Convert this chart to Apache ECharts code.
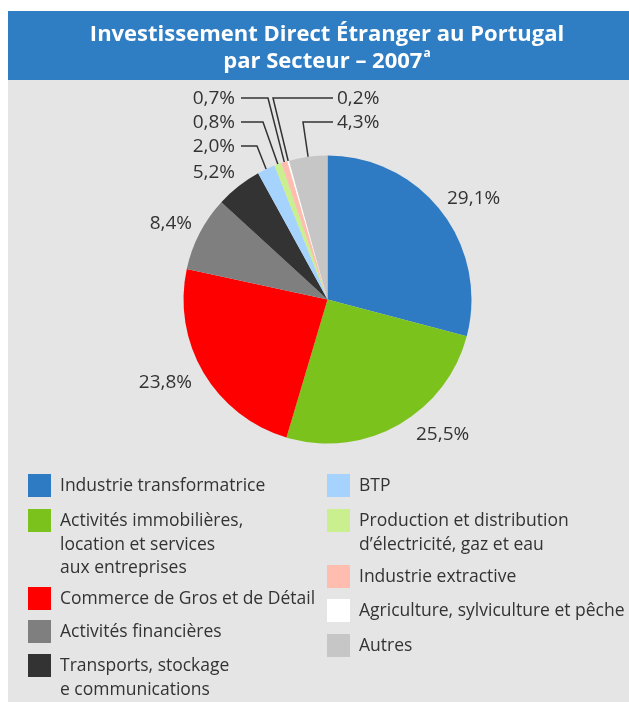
<!DOCTYPE html>
<html>
<head>
<meta charset="utf-8">
<script src="https://cdn.jsdelivr.net/npm/echarts@6/dist/echarts.min.js"></script>
<style>
html, body { margin: 0; padding: 0; background: #ffffff; }
#chart { width: 629px; height: 702px; }
</style>
</head>
<body>
<div id="chart"></div>
<script>
// secteurs, dans l'ordre des parts (sens horaire depuis midi)
var secteurs = ['Industrie transformatrice', 'Activités immobilières', 'Commerce de Gros et de Détail',
    'Activités financières', 'Transports', 'BTP', 'Production et distribution',
    'Industrie extractive', 'Agriculture, sylviculture et pêche', 'Autres'];
// texte affiché dans la légende (retours à la ligne)
var libelles = ['Industrie transformatrice',
    'Activités immobilières,\nlocation et services\naux entreprises',
    'Commerce de Gros et de Détail',
    'Activités financières',
    'Transports, stockage\ne communications',
    'BTP',
    'Production et distribution\nd’électricité, gaz et eau',
    'Industrie extractive',
    'Agriculture, sylviculture et pêche',
    'Autres'];
var parts = [29.1, 25.5, 23.8, 8.4, 5.2, 2.0, 0.8, 0.7, 0.2, 4.3];
var couleurs = ['#2e7bc4', '#7cc21c', '#fe0000', '#7f7f7f', '#333333',
    '#a6d3fe', '#c9ef8e', '#ffbdb0', '#ffffff', '#c6c6c6'];

// placement des étiquettes : x, y, alignement, coude du trait, fin du trait
var etiquettes = [
    [447, 198, 'left'],
    [416, 434, 'left'],
    [192, 382, 'right'],
    [192, 223, 'right'],
    [235, 172, 'right'],
    [235, 146, 'right', 257, 241],
    [235, 122, 'right', 263, 241],
    [235, 98, 'right', 268, 241],
    [337, 98, 'left', 273, 333],
    [337, 122, 'left', 303, 333]
];
// position (haut de la case) des éléments de légende
var legendePos = [[28, 474], [28, 509], [28, 587], [28, 620], [28, 654],
    [327, 474], [327, 509], [327, 565], [327, 599], [327, 634]];

var police = '"Open Sans", sans-serif';
var interligne = 23.5;
var caseH = 23;

var myChart = echarts.init(document.getElementById('chart'));

var donnees = secteurs.map(function (nom, i) {
    return {
        name: nom,
        value: parts[i],
        itemStyle: { color: couleurs[i] },
        labelLine: { show: etiquettes[i][3] != null }
    };
});

var legendes = secteurs.map(function (nom, i) {
    var n = libelles[i].split('\n').length;
    // le texte est centré sur la case : on le décale pour aligner la 1re ligne
    var decal = caseH / 2 - (2 * n - 1) * interligne / 2 - 1;
    return {
        data: [nom],
        left: legendePos[i][0],
        top: legendePos[i][1] + Math.min(0, decal),
        padding: 0,
        icon: 'rect',
        itemWidth: 23,
        itemHeight: caseH,
        selectedMode: false,
        formatter: function () { return libelles[i]; },
        textStyle: {
            fontFamily: police,
            fontSize: 17.5,
            color: '#333333',
            lineHeight: interligne,
            padding: [(n - 1) * interligne + 2, 0, 0, 4],
            rich: { x: {} }
        }
    };
});

var option = {
    animation: false,
    graphic: [
        { type: 'rect', z: 0, shape: { x: 8, y: 11, width: 621, height: 69 }, style: { fill: '#2f7dc2' } },
        { type: 'rect', z: 0, shape: { x: 8, y: 80, width: 621, height: 622 }, style: { fill: '#e5e5e5' } }
    ],
    title: {
        text: 'Investissement Direct Étranger au Portugal\npar Secteur – 2007{sup|a}',
        left: 327,
        top: 21,
        padding: 0,
        textAlign: 'center',
        textStyle: {
            fontFamily: police,
            fontSize: 22,
            fontWeight: 'bold',
            color: '#ffffff',
            lineHeight: 27,
            rich: {
                sup: { fontFamily: police, fontSize: 12, fontWeight: 'bold', color: '#ffffff', verticalAlign: 'top', padding: [0, 0, 0, 1] }
            }
        }
    },
    legend: legendes,
    series: [
        {
            type: 'pie',
            center: [327.5, 299.5],
            radius: 144,
            startAngle: 90,
            clockwise: true,
            avoidLabelOverlap: false,
            data: donnees,
            label: {
                show: true,
                position: 'outside',
                fontFamily: police,
                fontSize: 19,
                color: '#333333',
                formatter: function (p) { return p.value.toFixed(1).replace('.', ',') + '%'; }
            },
            labelLine: {
                show: true,
                length: 10,
                length2: 10,
                lineStyle: { color: '#333333', width: 1.5 }
            },
            labelLayout: function (p) {
                var e = etiquettes[p.dataIndex];
                var r = { x: e[0], y: e[1] + 1, align: e[2], verticalAlign: 'middle' };
                if (e[3] != null && p.labelLinePoints) {
                    r.labelLinePoints = [p.labelLinePoints[0], [e[3], e[1]], [e[4], e[1]]];
                }
                return r;
            },
            emphasis: { disabled: true }
        }
    ]
};
myChart.setOption(option);
</script>
</body>
</html>
